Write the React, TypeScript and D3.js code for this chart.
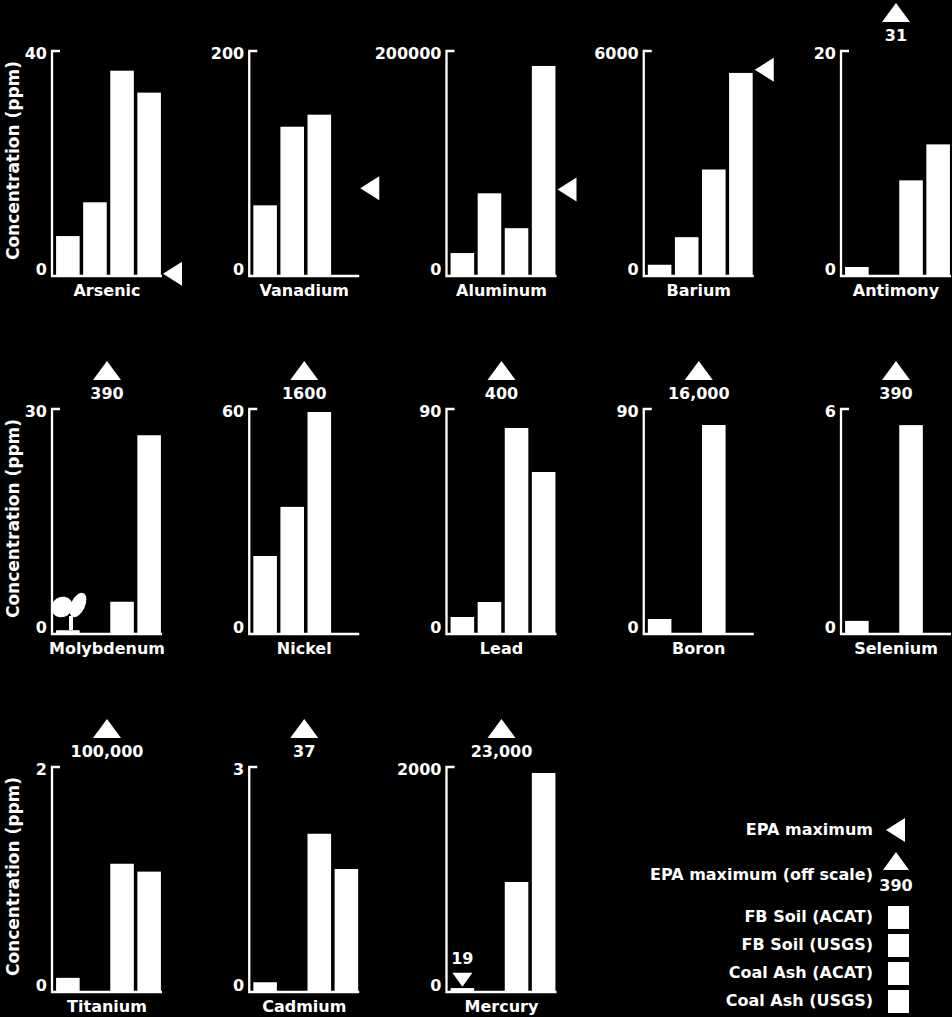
import React from 'react';
import * as d3 from 'd3';

// chart data
const elements = ['Arsenic', 'Vanadium', 'Aluminum', 'Barium', 'Antimony', 'Molybdenum', 'Nickel', 'Lead', 'Boron', 'Selenium', 'Titanium', 'Cadmium', 'Mercury'];
const yMax = [40, 200, 200000, 6000, 20, 30, 60, 90, 90, 6, 2, 3, 2000];
const yTickLabels = ['40', '200', '200000', '6000', '20', '30', '60', '90', '90', '6', '2', '3', '2000'];

const seriesNames = ['FB Soil (ACAT)', 'FB Soil (USGS)', 'Coal Ash (ACAT)', 'Coal Ash (USGS)'];
const fbSoilAcat = [7.1, 62.8, 20400, 300, 0.8, 0.5, 20.8, 6.8, 6, 0.35, 0.126, 0.13, 35];
const fbSoilUsgs = [13.1, 132.7, 73500, 1035, 0, 0, 33.9, 12.8, 0, 0, 0, 0, 0];
const coalAshAcat = [36.5, 143.4, 42500, 2840, 8.5, 4.3, 59.2, 82.4, 83.6, 5.57, 1.14, 2.11, 978];
const coalAshUsgs = [32.6, 0, 186700, 5415, 11.7, 26.5, 0, 64.8, 0, 0, 1.07, 1.64, 1947];

// EPA maximum: value (on scale -> side marker), otherwise label above the panel
const epaMax = [0.39, 78, 77000, 5500, 31, 390, 1600, 400, 16000, 390, 100000, 37, 23000];
const epaLabels = ['', '', '', '', '31', '390', '1600', '400', '16,000', '390', '100,000', '37', '23,000'];
// extra low marker drawn inside the mercury panel
const epaLow = [null, null, null, null, null, null, null, null, null, null, null, null, 19];

const FONT = '"DejaVu Sans", Verdana, sans-serif';
const W = 952;
const H = 1017;
const colStep = 197.25;
const rowStep = 358;
const plotH = 225;
const plotW = 110;

function Panel({ i }: { i: number }) {
  const col = i % 5;
  const row = Math.floor(i / 5);
  const ax = 52 + col * colStep;
  const top = 51 + row * rowStep;
  const base = top + plotH;

  const y = d3.scaleLinear().domain([0, yMax[i]]).range([base, top]);
  const x = d3.scaleBand<string>()
    .domain(seriesNames)
    .range([ax + 3, ax + plotW])
    .paddingInner(0.13)
    .paddingOuter(0.04);

  const vals = [fbSoilAcat[i], fbSoilUsgs[i], coalAshAcat[i], coalAshUsgs[i]];
  const cx = ax + plotW / 2;
  const epa = epaMax[i];
  const onScale = epa <= yMax[i];
  const low = epaLow[i];

  return (
    <g>
      {vals.map((v, k) => v > 0 ? (
        <rect key={k} x={x(seriesNames[k])} y={y(v)} width={x.bandwidth()} height={base - y(v)} fill="#fff" />
      ) : null)}
      {/* axes */}
      <path d={`M${ax + 8},${top} H${ax} V${base} H${ax + plotW}`} fill="none" stroke="#fff" strokeWidth={2.3} />
      <text x={ax - 5} y={top + 3} textAnchor="end" dominantBaseline="middle" fill="#fff" fontFamily={FONT} fontWeight="bold" fontSize={16}>{yTickLabels[i]}</text>
      <text x={ax - 5} y={base - 6} textAnchor="end" dominantBaseline="middle" fill="#fff" fontFamily={FONT} fontWeight="bold" fontSize={16}>0</text>
      <text x={cx} y={base + 15} textAnchor="middle" dominantBaseline="middle" fill="#fff" fontFamily={FONT} fontWeight="bold" fontSize={16}>{elements[i]}</text>
      {col === 0 && (
        <text transform={`translate(${14},${(top + base) / 2 - 3}) rotate(-90)`} textAnchor="middle" dominantBaseline="middle" fill="#fff" fontFamily={FONT} fontWeight="bold" fontSize={17}>Concentration (ppm)</text>
      )}
      {onScale ? (
        <path d={`M${ax + plotW + 1},${y(epa)} L${ax + plotW + 20},${y(epa) - 12} L${ax + plotW + 20},${y(epa) + 12} Z`} fill="#fff" />
      ) : (
        <g>
          <path d={`M${cx},${top - 48} L${cx + 14},${top - 29} L${cx - 14},${top - 29} Z`} fill="#fff" />
          <text x={cx} y={top - 15} textAnchor="middle" dominantBaseline="middle" fill="#fff" fontFamily={FONT} fontWeight="bold" fontSize={16}>{epaLabels[i]}</text>
        </g>
      )}
      {low != null && (() => {
        const lx = (x(seriesNames[0]) as number) + x.bandwidth() / 2;
        const ly = y(low) - 3;
        return (
          <g>
            <path d={`M${lx},${ly} L${lx + 10},${ly - 14} L${lx - 10},${ly - 14} Z`} fill="#fff" />
            <text x={lx} y={ly - 27} textAnchor="middle" dominantBaseline="middle" fill="#fff" fontFamily={FONT} fontWeight="bold" fontSize={16}>{low}</text>
          </g>
        );
      })()}
    </g>
  );
}

// little sprout icon sitting on the molybdenum panel
function Sprout() {
  const i = elements.indexOf('Molybdenum');
  const ax = 52 + (i % 5) * colStep;
  const base = 51 + Math.floor(i / 5) * rowStep + plotH;
  const sx = ax + 19;
  const sy = base - 4;
  return (
    <g fill="#fff">
      <rect x={sx - 2} y={sy - 14} width={4} height={14} />
      <ellipse cx={sx - 9} cy={sy - 23} rx={11} ry={10} transform={`rotate(-35,${sx - 9},${sy - 23})`} />
      <ellipse cx={sx + 7} cy={sy - 25} rx={7} ry={13} transform={`rotate(25,${sx + 7},${sy - 25})`} />
    </g>
  );
}

function Legend() {
  const tx = 873;
  const txt = { fill: '#fff', fontFamily: FONT, fontWeight: 'bold' as const, fontSize: 16, textAnchor: 'end' as const, dominantBaseline: 'middle' as const };
  const sq = d3.scaleBand<string>().domain(seriesNames).range([906, 1013]).paddingInner(0.18);
  return (
    <g>
      <text x={tx} y={830} {...txt}>EPA maximum</text>
      <path d="M886,830 L905,818 L905,842 Z" fill="#fff" />
      <text x={tx} y={875} {...txt}>EPA maximum (off scale)</text>
      <path d="M896,852 L909,870 L883,870 Z" fill="#fff" />
      <text x={896} y={886} fill="#fff" fontFamily={FONT} fontWeight="bold" fontSize={16} textAnchor="middle" dominantBaseline="middle">390</text>
      {seriesNames.map((s) => (
        <g key={s}>
          <text x={tx} y={(sq(s) as number) + sq.bandwidth() / 2} {...txt}>{s}</text>
          <rect x={888} y={sq(s)} width={21} height={sq.bandwidth()} fill="#fff" />
        </g>
      ))}
    </g>
  );
}

export default function App() {
  return (
    <svg width={W} height={H} style={{ position: 'absolute', left: 0, top: 0, background: '#000', display: 'block' }}>
      <rect width={W} height={H} fill="#000" />
      {elements.map((_, i) => <Panel key={i} i={i} />)}
      <Sprout />
      <Legend />
    </svg>
  );
}
